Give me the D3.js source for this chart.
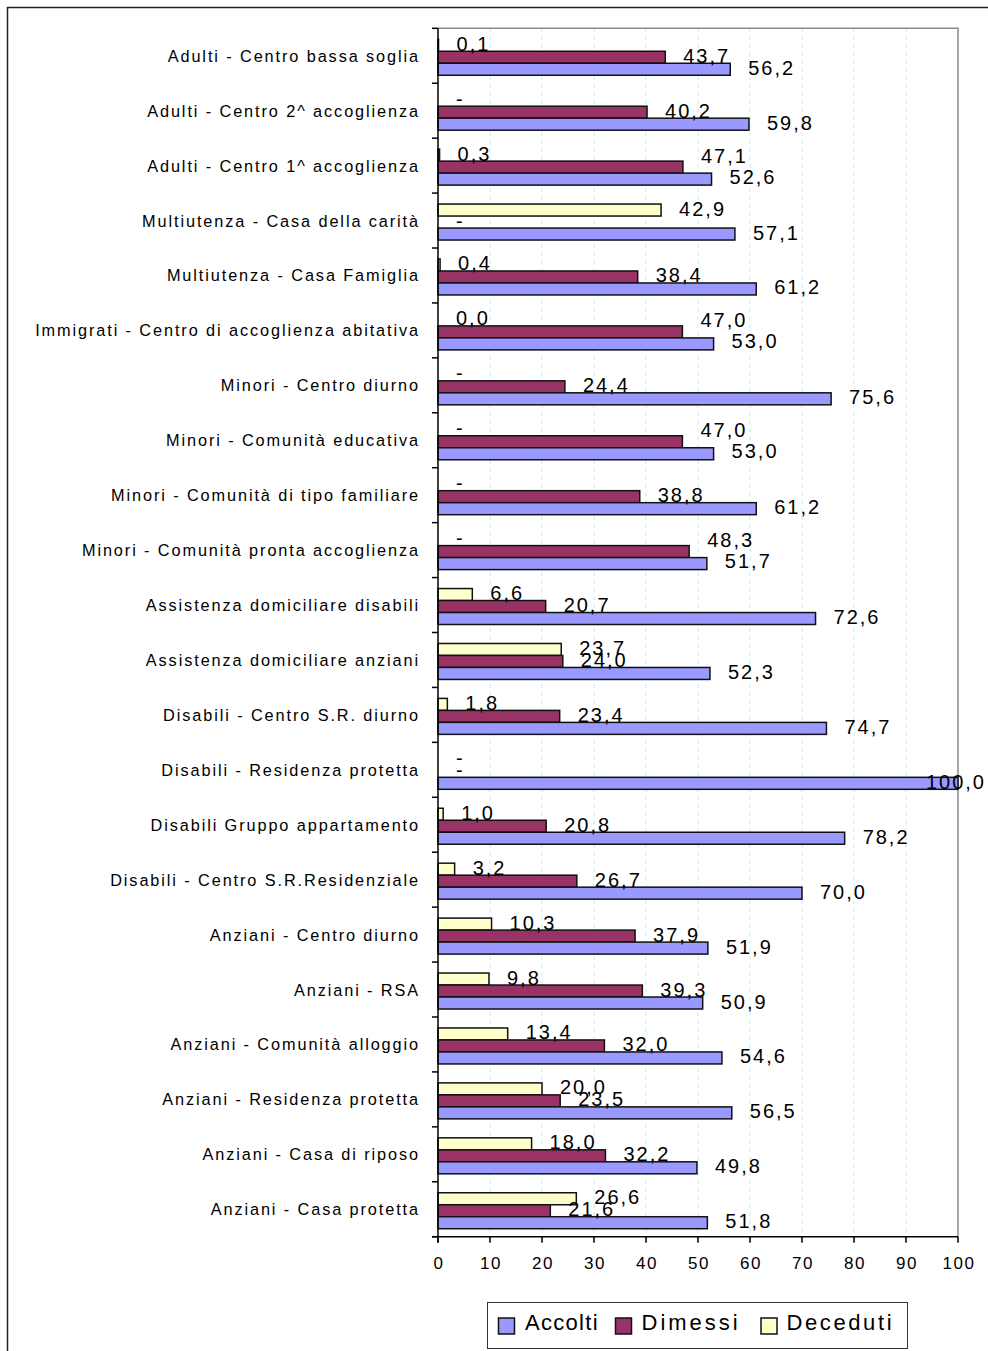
<!DOCTYPE html>
<html><head><meta charset="utf-8">
<script src="https://cdn.jsdelivr.net/npm/d3@7"></script>
<style>
html,body{margin:0;padding:0;background:#fff;}
svg{display:block;font-family:"Liberation Sans",Arial,sans-serif;}
</style></head>
<body>
<svg id="chart" width="988" height="1351"></svg>
<script>
const categories = [
  "Adulti - Centro bassa soglia",
  "Adulti - Centro 2^ accoglienza",
  "Adulti - Centro 1^ accoglienza",
  "Multiutenza - Casa della carità",
  "Multiutenza - Casa Famiglia",
  "Immigrati - Centro di accoglienza abitativa",
  "Minori - Centro diurno",
  "Minori - Comunità educativa",
  "Minori - Comunità di tipo familiare",
  "Minori - Comunità pronta accoglienza",
  "Assistenza domiciliare disabili",
  "Assistenza domiciliare anziani",
  "Disabili - Centro S.R. diurno",
  "Disabili - Residenza protetta",
  "Disabili Gruppo appartamento",
  "Disabili - Centro S.R.Residenziale",
  "Anziani - Centro diurno",
  "Anziani - RSA",
  "Anziani - Comunità alloggio",
  "Anziani - Residenza protetta",
  "Anziani - Casa di riposo",
  "Anziani - Casa protetta"
];
const accolti   = [56.2, 59.8, 52.6, 57.1, 61.2, 53.0, 75.6, 53.0, 61.2, 51.7, 72.6, 52.3, 74.7, 100.0, 78.2, 70.0, 51.9, 50.9, 54.6, 56.5, 49.8, 51.8];
const dimessi   = [43.7, 40.2, 47.1, null, 38.4, 47.0, 24.4, 47.0, 38.8, 48.3, 20.7, 24.0, 23.4, null, 20.8, 26.7, 37.9, 39.3, 32.0, 23.5, 32.2, 21.6];
const deceduti  = [0.1, null, 0.3, 42.9, 0.4, 0.0, null, null, null, null, 6.6, 23.7, 1.8, null, 1.0, 3.2, 10.3, 9.8, 13.4, 20.0, 18.0, 26.6];
const seriesNames = ["Accolti", "Dimessi", "Deceduti"];
const xTicks = [0, 10, 20, 30, 40, 50, 60, 70, 80, 90, 100];

const colors = {Accolti: "#9999ff", Dimessi: "#993366", Deceduti: "#ffffcc"};
const seriesData = {Accolti: accolti, Dimessi: dimessi, Deceduti: deceduti};

const svg = d3.select("#chart");

// outer frame
svg.append("path").attr("d", "M7.5,1351 V7.5 H988").attr("fill", "none").attr("stroke", "#222").attr("stroke-width", 1.5);

const x = d3.scaleLinear().domain([0, 100]).range([438, 958]);
const y = d3.scaleBand().domain(categories).range([28.3, 1236.7]);
const bw = y.bandwidth();
const barOrder = ["Deceduti", "Dimessi", "Accolti"];
const sub = d3.scaleBand().domain(barOrder).range([0, bw]).paddingOuter(0.79);

// gridlines
svg.append("g").selectAll("line").data(xTicks.filter(t => t > 0 && t < 100)).join("line")
  .attr("x1", d => x(d)).attr("x2", d => x(d))
  .attr("y1", y.range()[0]).attr("y2", y.range()[1])
  .attr("stroke", "#bdeeee").attr("stroke-width", 1).attr("stroke-dasharray", "4,4");

// plot border top and right
svg.append("path")
  .attr("d", `M${x(0)},${y.range()[0]} H${x(100)} V${y.range()[1]}`)
  .attr("fill", "none").attr("stroke", "#8a8a8a").attr("stroke-width", 1.5);

const fmt = v => d3.format(".1f")(v).replace(".", ",");
const gBars = svg.append("g");
const gLab = svg.append("g");
const labelStyle = t => t.attr("dominant-baseline", "central")
  .attr("font-size", 20).attr("letter-spacing", "2px").attr("fill", "#000");

categories.forEach((c, i) => {
  const labels = {};
  barOrder.forEach(s => {
    const v = seriesData[s][i];
    const yy = y(c) + sub(s) + 1.5;
    if (v !== null) {
      gBars.append("rect")
        .attr("x", x(0)).attr("y", yy)
        .attr("width", x(v) - x(0)).attr("height", sub.bandwidth())
        .attr("fill", colors[s]).attr("stroke", "#111").attr("stroke-width", 1.5);
    }
    const t = gLab.append("text")
      .attr("x", x(v === null ? 0 : v) + 18)
      .attr("y", yy + sub.bandwidth() / 2 - 1.5)
      .call(labelStyle)
      .text(v === null ? "-" : fmt(v));
    const bb = t.node().getBBox();
    if (bb.x + bb.width > 986) t.attr("x", 986 - bb.width);
    labels[s] = t;
  });
  // avoid collision between Dimessi and Accolti labels: lift Dimessi label one row
  const dv = dimessi[i], av = accolti[i];
  if (dv !== null && av !== null) {
    const db = labels.Dimessi.node().getBBox();
    const ab = labels.Accolti.node().getBBox();
    if (db.x + db.width > ab.x + 4) {
      labels.Dimessi.attr("y", +labels.Dimessi.attr("y") - sub.step() + 2);
      labels.Accolti.attr("y", +labels.Accolti.attr("y") - 1);
    }
  }
});

// left axis
svg.append("line").attr("x1", x(0)).attr("x2", x(0)).attr("y1", y.range()[0]).attr("y2", y.range()[1] + 6)
  .attr("stroke", "#000").attr("stroke-width", 1.5);
const bounds = categories.map(c => y(c)).concat([y.range()[1]]);
svg.append("g").selectAll("line").data(bounds).join("line")
  .attr("x1", x(0) - 6).attr("x2", x(0)).attr("y1", d => d).attr("y2", d => d)
  .attr("stroke", "#000").attr("stroke-width", 1.5);

// category labels
svg.append("g").selectAll("text").data(categories).join("text")
  .attr("x", 420).attr("y", d => y(d) + bw / 2)
  .attr("text-anchor", "end").attr("dominant-baseline", "central")
  .attr("font-size", 16.3).attr("letter-spacing", "1.9px").attr("fill", "#000")
  .text(d => d);

// bottom axis
svg.append("line").attr("x1", x(0) - 6).attr("x2", x(100)).attr("y1", y.range()[1]).attr("y2", y.range()[1])
  .attr("stroke", "#000").attr("stroke-width", 1.5);
svg.append("g").selectAll("line").data(xTicks).join("line")
  .attr("x1", d => x(d)).attr("x2", d => x(d)).attr("y1", y.range()[1]).attr("y2", y.range()[1] + 6)
  .attr("stroke", "#000").attr("stroke-width", 1.5);
svg.append("g").selectAll("text").data(xTicks).join("text")
  .attr("x", d => x(d) + 1).attr("y", 1263)
  .attr("text-anchor", "middle").attr("dominant-baseline", "central")
  .attr("font-size", 17).attr("letter-spacing", "1.5px").attr("fill", "#000")
  .text(d => d);

// legend
const lg = svg.append("g");
lg.append("rect").attr("x", 487.5).attr("y", 1302.5).attr("width", 420).attr("height", 46)
  .attr("fill", "#fff").attr("stroke", "#333").attr("stroke-width", 1);
const legendPos = {Accolti: [498.5, 525, "1.3px"], Dimessi: [615.5, 641.5, "3px"], Deceduti: [761, 786.5, "2.6px"]};
seriesNames.forEach(s => {
  const p = legendPos[s];
  lg.append("rect").attr("x", p[0]).attr("y", 1318).attr("width", 16).attr("height", 16)
    .attr("fill", colors[s]).attr("stroke", "#111").attr("stroke-width", 1.5);
  lg.append("text").attr("x", p[1]).attr("y", 1329.5)
    .attr("font-size", 22).attr("letter-spacing", p[2]).attr("fill", "#000").text(s);
});
</script>
</body></html>
